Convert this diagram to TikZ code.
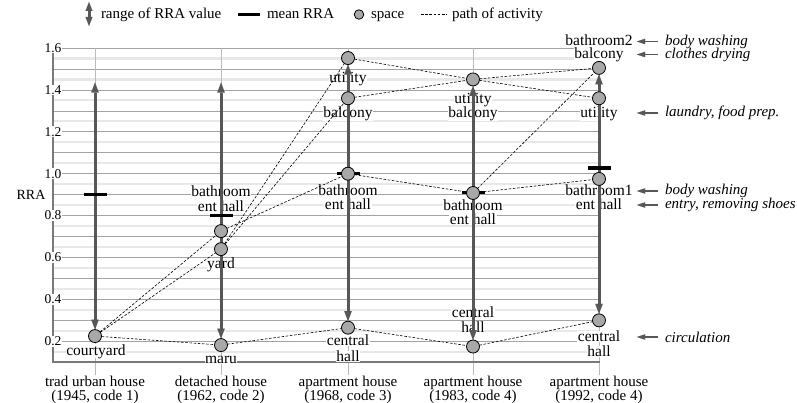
\documentclass[tikz,border=0pt]{standalone}
\usepackage{fontspec}
\setmainfont{Liberation Serif}
\usetikzlibrary{arrows.meta}
\pgfdeclarelayer{grid}
\pgfdeclarelayer{labels}
\pgfdeclarelayer{paths}
\pgfsetlayers{grid,labels,paths,main}
\begin{document}
\begin{tikzpicture}[x=1pt,y=1pt,
  every node/.style={inner sep=0pt, outer sep=0pt},
  gridmajor/.style={draw=black!36, line width=0.7pt},
  gridminor/.style={draw=black!9, line width=2.2pt},
  gridcol/.style={draw=black!27, line width=0.7pt},
  axisline/.style={draw=black!52, line width=2pt, line join=miter},
  ticklbl/.style={fill=white, inner sep=0.8pt, font=\fontsize{13.5}{14}\selectfont},
  spacept/.style={circle, draw=black, line width=0.8pt, fill=black!34, minimum size=13pt},
  meanbar/.style={rectangle, fill=black, minimum width=23pt, minimum height=3.6pt},
  rangearrow/.style={draw=black!66, line width=3pt,
    {Triangle[length=10pt,width=7.5pt,line width=0.01pt]}-{Triangle[length=10pt,width=7.5pt,line width=0.01pt]}},
  legendarrow/.style={draw=black!66, line width=3pt,
    {Triangle[length=9pt,width=7pt,line width=0.01pt]}-{Triangle[length=9pt,width=7pt,line width=0.01pt]}},
  actpath/.style={draw=black, line width=0.6pt, dash pattern=on 2.6pt off 1.6pt},
  lbl/.style={fill=white, anchor=base, inner xsep=0.5pt, font=\fontsize{15.5}{15}\selectfont},
  annotext/.style={anchor=west, font=\fontsize{15}{15}\selectfont\itshape},
  annoarrow/.style={draw=black!66, line width=1.1pt, shorten <=7pt,
    -{Triangle[length=8pt,width=5.5pt,line width=0.01pt]}},
  bottomlbl/.style={anchor=base, font=\fontsize{15}{15}\selectfont},
  legendtxt/.style={anchor=base west, font=\fontsize{15}{15}\selectfont},
]
\useasboundingbox (0,0) rectangle (797,-403);

% ---------- legend ----------
\coordinate (lgA) at (89,-2);
\coordinate (lgB) at (89,-26);
\draw[legendarrow] (lgA) -- (lgB);
\node[legendtxt] (lgt1) at (101,-18.5) {range of RRA value};
\node[meanbar, minimum width=22pt] (lgbar) at (249,-14.5) {};
\node[legendtxt] (lgt2) at (267,-18.5) {mean RRA};
\node[spacept, minimum size=9.5pt] (lgsp) at (359,-14.5) {};
\node[legendtxt] (lgt3) at (371,-18.5) {space};
\coordinate (lgd1) at (421,-14.5);
\coordinate (lgd2) at (447,-14.5);
\draw[actpath] (lgd1) -- (lgd2);
\node[legendtxt] (lgt4) at (452,-18.5) {path of activity};

% ---------- plot area (x in px, y in RRA units) ----------
\begin{scope}[yshift=-383.2pt, y=209.5pt]
  \begin{pgfonlayer}{grid}
    \foreach \i in {3,5,...,31} \draw[gridminor] (53,\i/20) -- (600,\i/20);
    \foreach \i in {2,...,16} \draw[gridmajor] (53,\i/10) -- (600,\i/10);
    \foreach \x in {95,221,348,473,599} \draw[gridcol] (\x,1.6) -- (\x,0.04);
    \draw[axisline] (53,1.6) -- (53,0.1) -- (600,0.1);
  \end{pgfonlayer}
  \begin{pgfonlayer}{labels}
    \foreach \v [count=\k] in {0.2,0.4,0.6,0.8,1.0,1.2,1.4,1.6}
      \node[ticklbl] (tick\k) at (53,\v) {\v};
  \end{pgfonlayer}

  % mean values
  \node[meanbar] (m1) at (95,0.9) {};
  \node[meanbar] (m2) at (221,0.8) {};
  \node[meanbar] (m3) at (348,1.0) {};
  \node[meanbar] (m4) at (473,0.91) {};
  \node[meanbar] (m5) at (599,1.027) {};

  % spaces
  \node[spacept] (c1c) at (95,0.225) {};
  \node[spacept] (c2b) at (221,0.726) {};
  \node[spacept] (c2y) at (221,0.64) {};
  \node[spacept] (c2m) at (221,0.182) {};
  \node[spacept] (c3u) at (348,1.552) {};
  \node[spacept] (c3bal) at (348,1.36) {};
  \node[spacept] (c3b) at (348,1.0) {};
  \node[spacept] (c3ch) at (348,0.265) {};
  \node[spacept] (c4ub) at (473,1.45) {};
  \node[spacept] (c4b) at (473,0.908) {};
  \node[spacept] (c4ch) at (473,0.175) {};
  \node[spacept] (c5b) at (599,1.505) {};
  \node[spacept] (c5u) at (599,1.36) {};
  \node[spacept] (c5bath) at (599,0.975) {};
  \node[spacept] (c5ch) at (599,0.30) {};

  \coordinate (c1top) at (95,1.435);
  \coordinate (c2top) at (221,1.435);

  \begin{pgfonlayer}{paths}
    % paths of activity
    \draw[actpath] (c1c) -- (c2b);
    \draw[actpath] (c1c) -- (c2y);
    \draw[actpath] (c1c) -- (c2m);
    \draw[actpath] (c2b) -- (c3b);
    \draw[actpath] (c2y) -- (c3u);
    \draw[actpath] (c2y) -- (c3bal);
    \draw[actpath] (c2m) -- (c3ch);
    \draw[actpath] (c3u) -- (c4ub);
    \draw[actpath] (c3bal) -- (c4ub);
    \draw[actpath] (c3b) -- (c4b);
    \draw[actpath] (c3ch) -- (c4ch);
    \draw[actpath] (c4ub) -- (c5b);
    \draw[actpath] (c4ub) -- (c5u);
    \draw[actpath] (c4b) -- (c5bath);
    \draw[actpath] (c4b) -- (c5b);
    \draw[actpath] (c4ch) -- (c5ch);
    % ranges of RRA values
    \draw[rangearrow] (c1top) -- (c1c);
    \draw[rangearrow] (c2top) -- (c2m);
    \draw[rangearrow] (c3u) -- (c3ch);
    \draw[rangearrow] (c4ub) -- (c4ch);
    \draw[rangearrow] (c5b) -- (c5ch);
  \end{pgfonlayer}
\end{scope}

% axis title
\node[font=\fontsize{14}{14}\selectfont] (rra) at (31,-195) {RRA};

% ---------- space names ----------
\begin{pgfonlayer}{labels}
  \node[lbl] (l1a) at (96,-355) {courtyard};
  \node[lbl] (l2a) at (221,-196.5) {bathroom};
  \node[lbl] (l2b) at (221,-211.5) {ent hall};
  \node[lbl] (l2c) at (221,-268.5) {yard};
  \node[lbl] (l2d) at (221,-363.5) {maru};
  \node[lbl] (l3a) at (348,-82.5) {utility};
  \node[lbl] (l3b) at (348,-117.5) {balcony};
  \node[lbl] (l3c) at (348,-195.5) {bathroom};
  \node[lbl] (l3d) at (348,-209.5) {ent hall};
  \node[lbl] (l3e) at (348,-345.5) {central};
  \node[lbl] (l3f) at (348,-361.5) {hall};
  \node[lbl] (l4a) at (473,-103.5) {utility};
  \node[lbl] (l4b) at (473,-117.5) {balcony};
  \node[lbl] (l4c) at (473,-210.5) {bathroom};
  \node[lbl] (l4d) at (473,-224.5) {ent hall};
  \node[lbl] (l4e) at (473,-317.5) {central};
  \node[lbl] (l4f) at (473,-332.5) {hall};
  \node[lbl] (l5a) at (599,-46) {bathroom2};
  \node[lbl] (l5b) at (599,-58.5) {balcony};
  \node[lbl] (l5c) at (599,-117.5) {utility};
  \node[lbl] (l5d) at (599,-195.5) {bathroom1};
  \node[lbl] (l5e) at (599,-209.5) {ent hall};
  \node[lbl] (l5f) at (599,-341.5) {central};
  \node[lbl] (l5g) at (599,-356.5) {hall};
\end{pgfonlayer}

% ---------- activities ----------
\coordinate (annotip) at (637,0);
\node[annotext] (n1) at (665,-41.5) {body washing};
\node[annotext] (n2) at (665,-54.5) {clothes drying};
\node[annotext] (n3) at (665,-113) {laundry, food prep.};
\node[annotext] (n4) at (665,-191) {body washing};
\node[annotext] (n5) at (665,-205) {entry, removing shoes};
\node[annotext] (n6) at (665,-337) {circulation};
\foreach \n in {n1,n2,n3,n4,n5,n6}
  \draw[annoarrow] (\n.west) -- (\n.west -| annotip);

% ---------- house types ----------
\node[bottomlbl] (h1a) at (95,-386) {trad urban house};
\node[bottomlbl] (h1b) at (95,-400) {(1945, code 1)};
\node[bottomlbl] (h2a) at (221,-386) {detached house};
\node[bottomlbl] (h2b) at (221,-400) {(1962, code 2)};
\node[bottomlbl] (h3a) at (348,-386) {apartment house};
\node[bottomlbl] (h3b) at (348,-400) {(1968, code 3)};
\node[bottomlbl] (h4a) at (473,-386) {apartment house};
\node[bottomlbl] (h4b) at (473,-400) {(1983, code 4)};
\node[bottomlbl] (h5a) at (599,-386) {apartment house};
\node[bottomlbl] (h5b) at (599,-400) {(1992, code 4)};
\end{tikzpicture}
\end{document}
